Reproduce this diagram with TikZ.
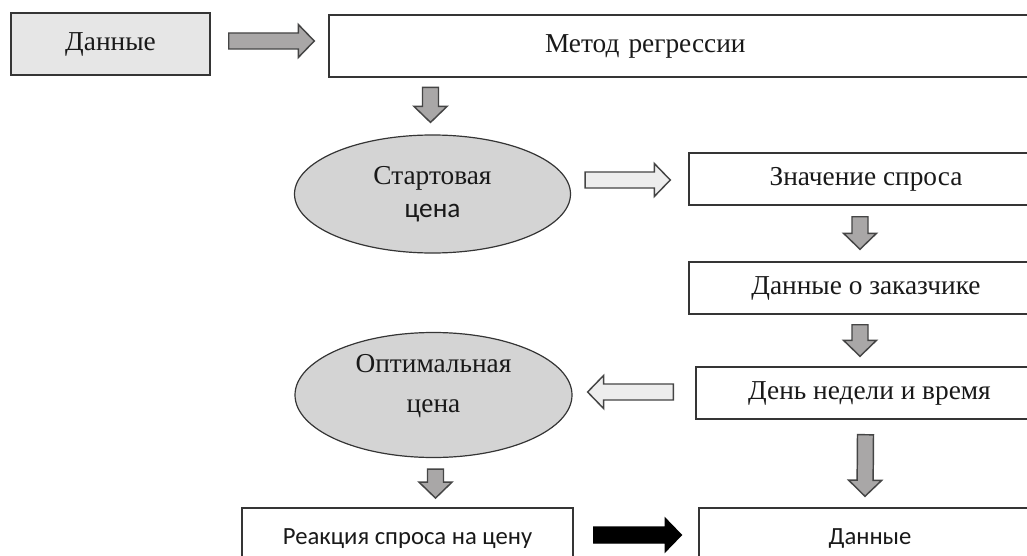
\documentclass[tikz,border=0pt]{standalone}
\usepackage{fontspec}
\setmainfont{Liberation Serif}
\newfontfamily\calfont{Carlito}
\usetikzlibrary{shapes.geometric, calc}

\definecolor{boxline}{HTML}{353535}
\definecolor{datafill}{HTML}{E6E6E6}
\definecolor{ovalfill}{HTML}{D4D4D4}
\definecolor{arrline}{HTML}{454545}
\definecolor{arrgray}{HTML}{A9A7A7}
\definecolor{arrlight}{HTML}{EDEDED}

% block arrow between two points: shaft 12pt wide, head 25pt wide, 12pt long
\newcommand{\fatarrow}[3][]{%
  \path #2 coordinate (fa-s) #3 coordinate (fa-t);
  \path ($(fa-t)!12pt!(fa-s)$) coordinate (fa-n);
  \draw[blockarr,#1] ($(fa-s)!6pt!90:(fa-t)$) -- ($(fa-n)!6pt!90:(fa-t)$)
    -- ($(fa-n)!12.4pt!90:(fa-t)$) -- (fa-t) -- ($(fa-n)!12.4pt!-90:(fa-t)$)
    -- ($(fa-n)!6pt!-90:(fa-t)$) -- ($(fa-s)!6pt!-90:(fa-t)$) -- cycle;}

\begin{document}
\begin{tikzpicture}[x=0.75pt, y=-0.75pt,
    box/.style={rectangle, draw=boxline, line width=1.1pt, fill=white, minimum height=39pt, inner sep=0pt, text=black!90, font=\fontsize{20.5}{25}\selectfont},
    tallbox/.style={box, minimum height=46.5pt},
    sansbox/.style={tallbox, font=\calfont\fontsize{18.5}{22}\selectfont},
    oval/.style={ellipse, draw=boxline, line width=0.9pt, fill=ovalfill, inner sep=0pt, align=center, text=black!90, font=\fontsize{20.5}{25}\selectfont},
    blockarr/.style={draw=arrline, line width=1.1pt, line join=miter, fill=arrgray},
    lightarr/.style={fill=arrlight},
    blackarr/.style={draw=black, fill=black}
  ]
    \clip (0,0) rectangle (1027,556);
    \fill[white] (0,0) rectangle (1027,556);

    \node[tallbox, fill=datafill, minimum width=149.25pt] (dat) at (110.5, 44) {Данные};
    \node[tallbox, minimum width=535.5pt, text width=211.5pt, align=left] (reg) at (686, 46) {Метод регрессии};
    \node[oval, minimum width=207pt, minimum height=88.5pt] (start) at (432.5, 194) {Стартовая\\{\calfont цена}};
    \node[box, minimum width=265.5pt] (demand) at (866, 179) {Значение спроса};
    \node[box, minimum width=265.5pt] (cust) at (866, 288) {Данные о заказчике};
    \node[box, minimum width=260.25pt] (dayt) at (869.5, 393) {День недели и время};
    \node[oval, minimum width=207.75pt, minimum height=93.75pt, text depth=17pt] (opt) at (433.5, 395) {Оптимальная\\[5pt]цена};
    \node[sansbox, minimum width=248.25pt] (react) at (407.5, 539) {Реакция спроса на цену};
    \node[sansbox, minimum width=256.5pt] (out) at (870, 539) {Данные};

    \fatarrow{($(dat.east)+(18,-3)$)}{($(reg.west)+(-14,-5)$)}
    \fatarrow{($(start.north)+(-2,-47)$)}{($(start.north)+(-2,-12)$)}
    \fatarrow[lightarr]{($(start.east)+(14,-14)$)}{($(demand.west)+(-18,1)$)}
    \fatarrow{($(demand.south)+(-6,11)$)}{($(cust.north)+(-6,-12)$)}
    \fatarrow{($(cust.south)+(-6,10)$)}{($(dayt.north)+(-9.5,-10)$)}
    \fatarrow[lightarr]{($(dayt.west)+(-22,-1)$)}{($(opt.east)+(15,-3)$)}
    \fatarrow{($(dayt.south)+(-4,15)$)}{($(out.north)+(-5,-11)$)}
    \fatarrow{($(opt.south)+(2,11)$)}{($(opt.south)+(2,40)$)}
    \fatarrow[blackarr]{($(react.east)+(20,-4)$)}{($(out.west)+(-17,-4)$)}
\end{tikzpicture}
\end{document}
